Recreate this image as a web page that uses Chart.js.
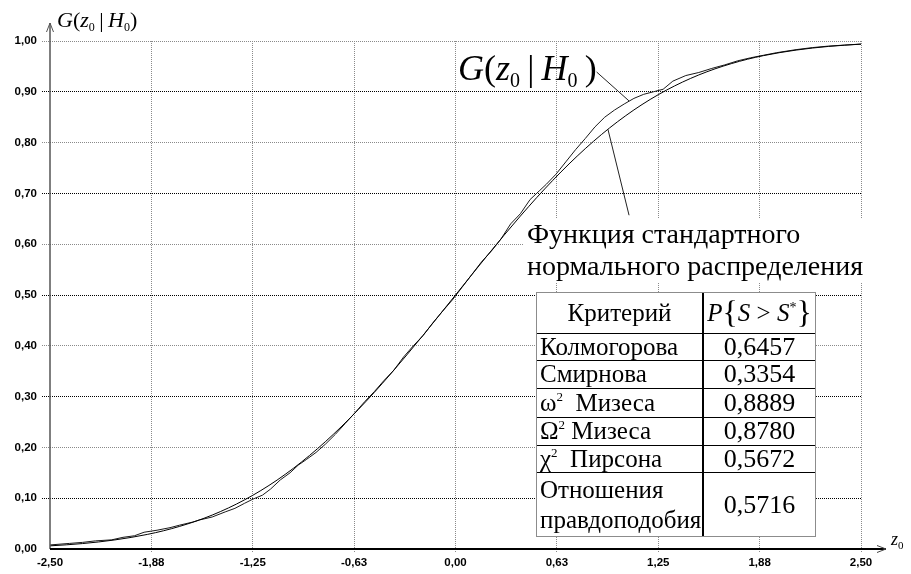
<!DOCTYPE html>
<html>
<head>
<meta charset="utf-8">
<script src="https://cdn.jsdelivr.net/npm/chart.js@4"></script>
<style>
  body { margin: 0; background: #fff; }
  #c { display: block; }
</style>
</head>
<body>
<canvas id="c" width="911" height="574"></canvas>
<script>
// Axis ticks and their labels
const zTicks = [-2.5, -1.875, -1.25, -0.625, 0, 0.625, 1.25, 1.875, 2.5];
const zTickLabels = ['-2,50', '-1,88', '-1,25', '-0,63', '0,00', '0,63', '1,25', '1,88', '2,50'];
const gTickLabels = ['0,00', '0,10', '0,20', '0,30', '0,40', '0,50', '0,60', '0,70', '0,80', '0,90', '1,00'];

// Standard normal distribution function
const normZ = [-2.5, -2.4, -2.3, -2.2, -2.1, -2.0, -1.9, -1.8, -1.7, -1.6, -1.5, -1.4, -1.3, -1.2, -1.1, -1.0,
  -0.9, -0.8, -0.7, -0.6, -0.5, -0.4, -0.3, -0.2, -0.1, 0.0, 0.1, 0.2, 0.3, 0.4, 0.5, 0.6, 0.7, 0.8, 0.9,
  1.0, 1.1, 1.2, 1.3, 1.4, 1.5, 1.6, 1.7, 1.8, 1.9, 2.0, 2.1, 2.2, 2.3, 2.4, 2.5];
const normG = [0.0062, 0.0082, 0.0107, 0.0139, 0.0179, 0.0228, 0.0287, 0.0359, 0.0446, 0.0548, 0.0668,
  0.0808, 0.0968, 0.1151, 0.1357, 0.1587, 0.1841, 0.2119, 0.2420, 0.2743, 0.3085, 0.3446, 0.3821, 0.4207,
  0.4602, 0.5000, 0.5398, 0.5793, 0.6179, 0.6554, 0.6915, 0.7257, 0.7580, 0.7881, 0.8159, 0.8413, 0.8643,
  0.8849, 0.9032, 0.9192, 0.9332, 0.9452, 0.9554, 0.9641, 0.9713, 0.9772, 0.9821, 0.9861, 0.9893, 0.9918, 0.9938];

// Empirical distribution of the statistic, G(z0 | H0)
const empZ = [-2.50, -2.38, -2.30, -2.22, -2.12, -2.05, -1.98, -1.92, -1.84, -1.76, -1.70, -1.62, -1.58, -1.50,
  -1.42, -1.36, -1.30, -1.25, -1.19, -1.14, -1.08, -1.02, -0.97, -0.92, -0.86, -0.80, -0.74, -0.68, -0.62,
  -0.56, -0.50, -0.44, -0.38, -0.32, -0.26, -0.20, -0.14, -0.08, -0.02, 0.04, 0.10, 0.16, 0.22, 0.28, 0.34,
  0.40, 0.46, 0.52, 0.56, 0.62, 0.68, 0.74, 0.80, 0.86, 0.92, 0.98, 1.04, 1.10, 1.16, 1.22, 1.28, 1.34, 1.42,
  1.50, 1.58, 1.66, 1.74, 1.82, 1.90, 1.98, 2.10, 2.20, 2.30, 2.40, 2.50];
const empG = [0.008, 0.011, 0.013, 0.016, 0.018, 0.023, 0.026, 0.033, 0.037, 0.042, 0.047, 0.053, 0.057, 0.063,
  0.073, 0.080, 0.090, 0.098, 0.106, 0.118, 0.136, 0.150, 0.165, 0.176, 0.190, 0.207, 0.226, 0.247, 0.268,
  0.290, 0.310, 0.332, 0.352, 0.378, 0.400, 0.420, 0.445, 0.468, 0.490, 0.515, 0.540, 0.565, 0.586, 0.610, 0.640,
  0.660, 0.688, 0.706, 0.718, 0.738, 0.762, 0.786, 0.808, 0.831, 0.850, 0.864, 0.876, 0.887, 0.895, 0.900, 0.905,
  0.921, 0.932, 0.938, 0.946, 0.953, 0.961, 0.967, 0.972, 0.977, 0.983, 0.987, 0.990, 0.992, 0.994];

// Goodness-of-fit criteria and their p-values P{S > S*}
const criteria = ['Колмогорова', 'Смирнова', 'ω2 Мизеса', 'Ω2 Мизеса', 'χ2 Пирсона', 'Отношения правдоподобия'];
const pValues = ['0,6457', '0,3354', '0,8889', '0,8780', '0,5672', '0,5716'];

// Leader lines from the captions to the curves, in data units
const leaders = [
  { from: [0.87, 0.939], to: [1.07, 0.882] },
  { from: [0.94, 0.826], to: [1.07, 0.657] }
];

const tickFont = { family: '"Liberation Sans", Arial, sans-serif', size: 11.5, weight: 'bold' };
const SERIF = "'Liberation Serif', 'Times New Roman', serif";
const fnt = (size, italic) => (italic ? 'italic ' : '') + size + 'px ' + SERIF;

// Draws a row of text pieces (for subscripts, superscripts and mixed styles)
function drawRuns(ctx, x, y, runs, align) {
  let w = 0;
  for (const r of runs) { ctx.font = r.f; w += ctx.measureText(r.t).width; }
  let cx = align === 'center' ? x - w / 2 : x;
  ctx.textAlign = 'left';
  ctx.textBaseline = 'alphabetic';
  for (const r of runs) {
    ctx.font = r.f;
    ctx.fillText(r.t, cx, y + (r.dy || 0));
    cx += ctx.measureText(r.t).width;
  }
}

// Cell text for a criterion: a Greek letter with a squared exponent, or plain text
function criterionRuns(name) {
  const m = name.match(/^([ωΩχ])2 (.*)$/);
  if (!m) return [{ t: name, f: fnt(25) }];
  return [
    { t: m[1], f: fnt(25) },
    { t: '2', f: fnt(13), dy: -10 },
    { t: (m[1] === 'Ω' ? ' ' : '\u2002') + m[2], f: fnt(25) }
  ];
}

function yGridColor(c) {
  const v = Math.round(c.tick.value * 10);
  if (v === 0) return 'rgba(0,0,0,0)';
  return v % 2 === 1 ? '#000' : '#8a8a8a';
}
function xGridColor(c) {
  return c.index === 0 ? 'rgba(0,0,0,0)' : '#8a8a8a';
}

const decorPlugin = {
  id: 'decor',
  afterDraw(chart) {
    const { ctx, chartArea: a, scales } = chart;
    ctx.save();

    // vertical axis with arrow
    ctx.strokeStyle = '#555';
    ctx.lineWidth = 1.5;
    ctx.beginPath();
    ctx.moveTo(a.left, a.bottom);
    ctx.lineTo(a.left, a.top - 18);
    ctx.stroke();
    ctx.lineWidth = 1;
    ctx.beginPath();
    ctx.moveTo(a.left - 3.5, a.top - 9);
    ctx.lineTo(a.left, a.top - 18);
    ctx.lineTo(a.left + 3.5, a.top - 9);
    ctx.stroke();

    // horizontal axis with arrow
    ctx.strokeStyle = '#000';
    ctx.lineWidth = 2;
    ctx.beginPath();
    ctx.moveTo(a.left, a.bottom);
    ctx.lineTo(a.right + 25, a.bottom);
    ctx.stroke();
    ctx.lineWidth = 1;
    ctx.strokeStyle = '#444';
    ctx.beginPath();
    ctx.moveTo(a.right + 16, a.bottom - 3.5);
    ctx.lineTo(a.right + 25, a.bottom);
    ctx.lineTo(a.right + 16, a.bottom + 3.5);
    ctx.stroke();

    ctx.fillStyle = '#000';
    // axis titles
    drawRuns(ctx, a.left + 7, a.top - 14, [
      { t: 'G', f: fnt(22, true) }, { t: '(', f: fnt(22) }, { t: 'z', f: fnt(22, true) },
      { t: '0', f: fnt(12), dy: 4 }, { t: '\u2009|\u2009', f: fnt(22) }, { t: 'H', f: fnt(22, true) },
      { t: '0', f: fnt(12), dy: 4 }, { t: ')', f: fnt(22) }
    ]);
    drawRuns(ctx, a.right + 30, a.bottom - 4, [
      { t: 'z', f: fnt(18, true) }, { t: '0', f: fnt(11), dy: 4 }
    ]);

    // caption of the empirical curve
    drawRuns(ctx, 458, 80, [
      { t: 'G', f: fnt(36, true) }, { t: '(', f: fnt(36) }, { t: 'z', f: fnt(36, true) },
      { t: '0', f: fnt(20), dy: 7 }, { t: '\u2009|\u2009', f: fnt(36) }, { t: 'H', f: fnt(36, true) },
      { t: '0', f: fnt(20), dy: 7 }, { t: '\u2009)', f: fnt(36) }
    ]);

    // caption of the normal curve on a white ground
    ctx.fillStyle = '#fff';
    ctx.fillRect(524, 218, 344, 64);
    ctx.fillStyle = '#000';
    drawRuns(ctx, 527, 243, [{ t: 'Функция стандартного', f: fnt(28) }]);
    drawRuns(ctx, 527, 275, [{ t: 'нормального распределения', f: fnt(28) }]);

    // table of criteria
    const tx0 = 536, tx1 = 703, tx2 = 816;
    const rows = [292, 333, 360, 388, 417, 445, 472, 537];
    ctx.fillStyle = '#fff';
    ctx.fillRect(tx0, rows[0], tx2 - tx0, rows[rows.length - 1] - rows[0]);
    ctx.strokeStyle = '#000';
    ctx.lineWidth = 1;
    for (let i = 1; i < rows.length - 1; i++) {
      ctx.beginPath();
      ctx.moveTo(tx0, rows[i] + 0.5);
      ctx.lineTo(tx2, rows[i] + 0.5);
      ctx.stroke();
    }
    ctx.lineWidth = 2;
    ctx.beginPath();
    ctx.moveTo(tx1, rows[0]);
    ctx.lineTo(tx1, rows[rows.length - 1]);
    ctx.stroke();
    ctx.strokeStyle = '#8c8c8c';
    ctx.lineWidth = 1;
    ctx.strokeRect(tx0 + 0.5, rows[0] + 0.5, tx2 - tx0 - 1, rows[rows.length - 1] - rows[0] - 1);

    ctx.fillStyle = '#000';
    const cx1 = (tx0 + tx1) / 2, cx2 = (tx1 + tx2) / 2;
    const mid = i => (rows[i] + rows[i + 1]) / 2;
    drawRuns(ctx, cx1, mid(0) + 8, [{ t: 'Критерий', f: fnt(25) }], 'center');
    drawRuns(ctx, cx2, mid(0) + 8, [
      { t: 'P', f: fnt(25, true) }, { t: '{', f: fnt(32), dy: 2 }, { t: 'S', f: fnt(25, true) },
      { t: ' > ', f: fnt(25) }, { t: 'S', f: fnt(25, true) }, { t: '*', f: fnt(14), dy: -9 },
      { t: '}', f: fnt(32), dy: 2 }
    ], 'center');
    criteria.forEach((name, k) => {
      const i = k + 1;
      if (i === rows.length - 2) {
        const words = name.split(' ');
        drawRuns(ctx, tx0 + 4, mid(i) - 7, [{ t: words[0], f: fnt(25) }]);
        drawRuns(ctx, tx0 + 4, mid(i) + 23, [{ t: words[1], f: fnt(25) }]);
      } else {
        drawRuns(ctx, tx0 + 4, mid(i) + 8, criterionRuns(name));
      }
      drawRuns(ctx, cx2, mid(i) + 8, [{ t: pValues[k], f: fnt(26) }], 'center');
    });

    // leader lines
    ctx.strokeStyle = '#222';
    ctx.lineWidth = 1;
    for (const l of leaders) {
      ctx.beginPath();
      ctx.moveTo(scales.x.getPixelForValue(l.from[0]), scales.y.getPixelForValue(l.from[1]));
      ctx.lineTo(scales.x.getPixelForValue(l.to[0]), scales.y.getPixelForValue(l.to[1]));
      ctx.stroke();
    }
    ctx.restore();
  }
};

new Chart(document.getElementById('c'), {
  type: 'line',
  data: {
    datasets: [
      {
        label: 'Функция стандартного нормального распределения',
        data: normZ.map((z, i) => ({ x: z, y: normG[i] })),
        borderColor: '#000',
        borderWidth: 1,
        pointRadius: 0,
        cubicInterpolationMode: 'monotone'
      },
      {
        label: 'G(z0 | H0)',
        data: empZ.map((z, i) => ({ x: z, y: empG[i] })),
        borderColor: '#1a1a1a',
        borderWidth: 1,
        pointRadius: 0,
        tension: 0
      }
    ]
  },
  options: {
    responsive: false,
    animation: false,
    layout: { padding: { top: 41, right: 50, left: 0, bottom: 0 } },
    plugins: { legend: { display: false }, tooltip: { enabled: false } },
    scales: {
      x: {
        type: 'linear',
        min: -2.5,
        max: 2.5,
        afterBuildTicks: s => { s.ticks = zTicks.map(v => ({ value: v })); },
        afterFit: s => { s.height = 25; },
        grid: { color: xGridColor, tickColor: xGridColor, lineWidth: 1, drawTicks: true, tickLength: 4, tickBorderDash: [1, 1] },
        border: { display: false, dash: [1, 1] },
        ticks: { autoSkip: false, maxRotation: 0, padding: 3, color: '#000', font: tickFont,
                 callback: (v, i) => zTickLabels[i] }
      },
      y: {
        min: 0,
        max: 1,
        afterBuildTicks: s => { s.ticks = gTickLabels.map((t, i) => ({ value: i / 10 })); },
        afterFit: s => { s.width = 50; },
        grid: { color: yGridColor, tickColor: yGridColor, lineWidth: 1, drawTicks: true, tickLength: 8, tickBorderDash: [1, 1] },
        border: { display: false, dash: [1, 1] },
        ticks: { autoSkip: false, padding: 5, color: '#000', font: tickFont,
                 callback: (v, i) => gTickLabels[i] }
      }
    }
  },
  plugins: [decorPlugin]
});
</script>
</body>
</html>
